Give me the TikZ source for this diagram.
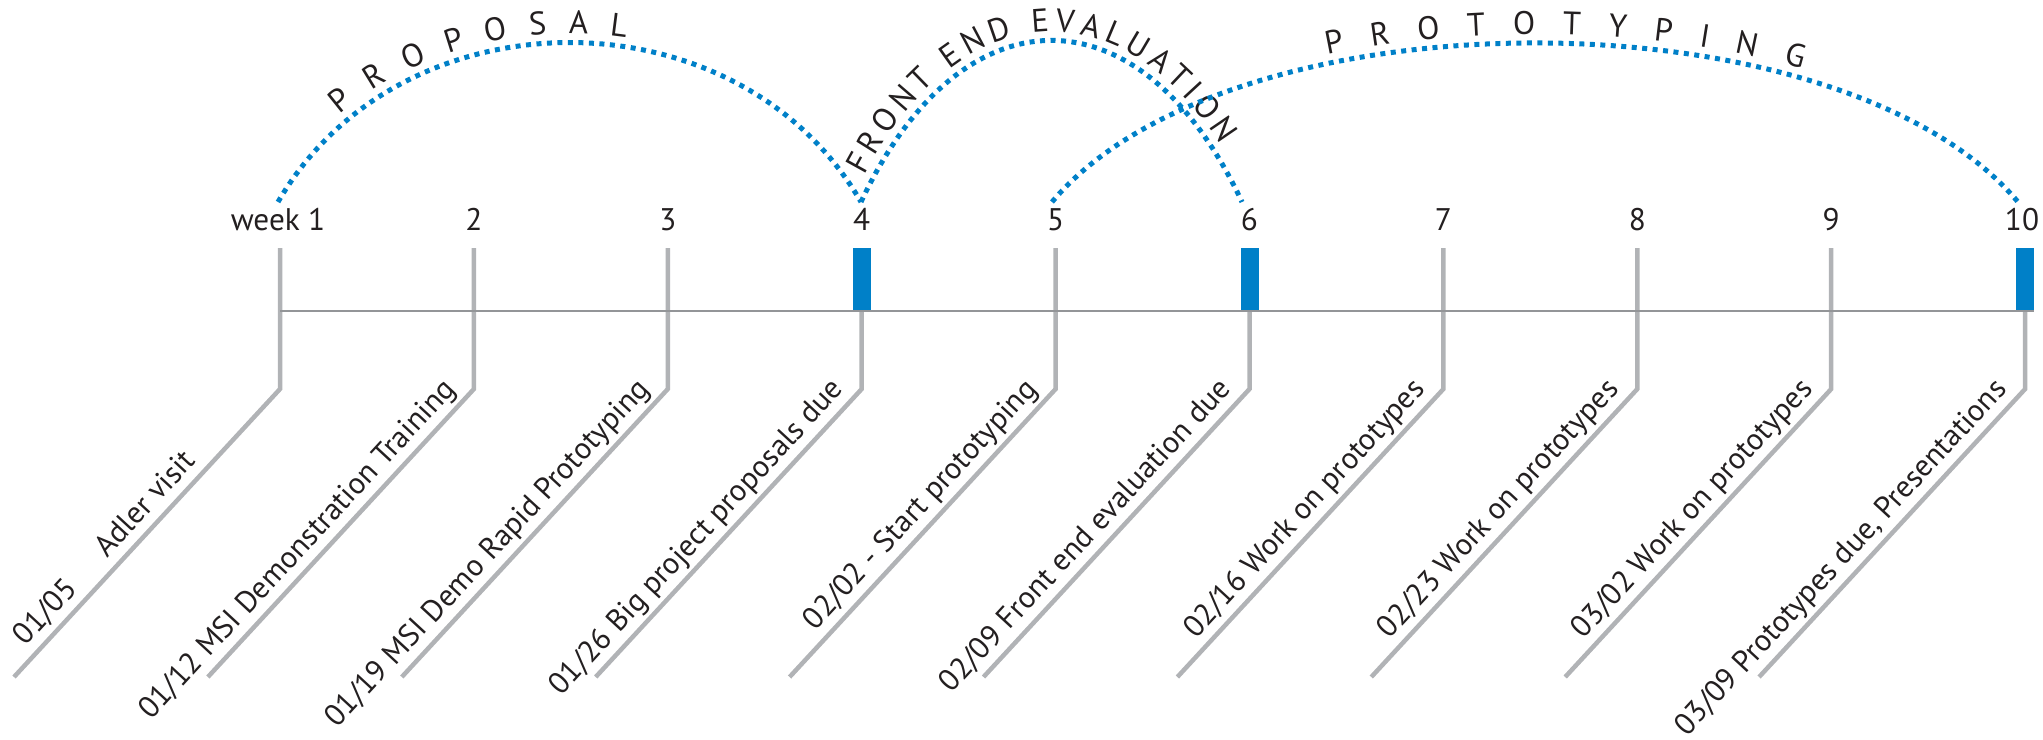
\documentclass[tikz,border=0pt]{standalone}
\usepackage{fontspec}
\setmainfont{PT Sans}
\usetikzlibrary{calc,decorations.text}

\definecolor{tlblue}{RGB}{0,128,200}
\definecolor{tickgray}{RGB}{177,179,182}
\definecolor{axisgray}{RGB}{147,149,152}
\definecolor{ink}{RGB}{35,31,32}

\tikzset{
	weekno/.style={anchor=base, text=ink, inner sep=0pt, font=\fontsize{12.5}{15}\selectfont},
	duelabel/.style={rotate=47.27, anchor=base east, text=ink, inner sep=0pt, font=\fontsize{12.2}{15}\selectfont},
	tickline/.style={draw=tickgray, line width=1.8pt},
	axisline/.style={draw=axisgray, line width=1.1pt},
	duebar/.style={fill=tlblue},
	phase/.style={draw=tlblue, line width=2pt, dash pattern=on 2pt off 2.2pt},
	phasetext/.style n args={3}{postaction={decorate, decoration={text along path, raise=3.5pt, text color=ink,
		text={|\fontsize{13}{14}\selectfont|#1}, text align={left indent=#2, right indent=#3, fit to path}}}}
}

\begin{document}
\begin{tikzpicture}[x=40pt,y=40pt]
	\useasboundingbox (0,0) rectangle (20.43,7.39);
	%
	\node[weekno] (w1)  at (2.78,5.09)   {week 1};
	\node[weekno] (w2)  at (4.739,5.09)  {2};
	\node[weekno] (w3)  at (6.678,5.09)  {3};
	\node[weekno] (w4)  at (8.617,5.09)  {4};
	\node[weekno] (w5)  at (10.556,5.09) {5};
	\node[weekno] (w6)  at (12.495,5.09) {6};
	\node[weekno] (w7)  at (14.434,5.09) {7};
	\node[weekno] (w8)  at (16.373,5.09) {8};
	\node[weekno] (w9)  at (18.312,5.09) {9};
	\node[weekno] (w10) at (20.22,5.09)  {10};
	
	%tick top, bend and foot
	\coordinate (t1)  at (2.800,4.91);  \coordinate (b1)  at (2.800,3.50);  \coordinate (e1)  at (0.140,0.62);
	\coordinate (t2)  at (4.739,4.91);  \coordinate (b2)  at (4.739,3.50);  \coordinate (e2)  at (2.079,0.62);
	\coordinate (t3)  at (6.678,4.91);  \coordinate (b3)  at (6.678,3.50);  \coordinate (e3)  at (4.018,0.62);
	\coordinate (t4)  at (8.617,4.91);  \coordinate (b4)  at (8.617,3.50);  \coordinate (e4)  at (5.957,0.62);
	\coordinate (t5)  at (10.556,4.91); \coordinate (b5)  at (10.556,3.50); \coordinate (e5)  at (7.896,0.62);
	\coordinate (t6)  at (12.495,4.91); \coordinate (b6)  at (12.495,3.50); \coordinate (e6)  at (9.835,0.62);
	\coordinate (t7)  at (14.434,4.91); \coordinate (b7)  at (14.434,3.50); \coordinate (e7)  at (11.774,0.62);
	\coordinate (t8)  at (16.373,4.91); \coordinate (b8)  at (16.373,3.50); \coordinate (e8)  at (13.713,0.62);
	\coordinate (t9)  at (18.312,4.91); \coordinate (b9)  at (18.312,3.50); \coordinate (e9)  at (15.652,0.62);
	\coordinate (t10) at (20.251,4.91); \coordinate (b10) at (20.251,3.50); \coordinate (e10) at (17.591,0.62);
	
	\draw[tickline] (t1)--(b1)--(e1);
	\draw[tickline] (t2)--(b2)--(e2);
	\draw[tickline] (t3)--(b3)--(e3);
	\draw[tickline] (t4)--(b4)--(e4);
	\draw[tickline] (t5)--(b5)--(e5);
	\draw[tickline] (t6)--(b6)--(e6);
	\draw[tickline] (t7)--(b7)--(e7);
	\draw[tickline] (t8)--(b8)--(e8);
	\draw[tickline] (t9)--(b9)--(e9);
	\draw[tickline] (t10)--(b10)--(e10);
	
	%due weeks
	\fill[duebar] ($(t4)+(-0.09,0)$) rectangle ($(t4)+(0.09,-0.63)$);
	\fill[duebar] ($(t6)+(-0.09,0)$) rectangle ($(t6)+(0.09,-0.63)$);
	\fill[duebar] ($(t10)+(-0.09,0)$) rectangle ($(t10)+(0.09,-0.63)$);
	
	%axis
	\coordinate (x0) at (2.80,4.28);
	\coordinate (x1) at (20.34,4.28);
	\draw[axisline] (x0)--(x1);
	
	%dates
	\node[duelabel, anchor=base west] (d1) at ($(e1)+(0.115,0.30)$) {01/05\hspace{1.4em}Adler visit};
	\node[duelabel] (d2)  at ($(b2)+(-0.17,-0.01)$)  {01/12 MSI Demonstration Training};
	\node[duelabel] (d3)  at ($(b3)+(-0.17,-0.01)$)  {01/19 MSI Demo Rapid Prototyping};
	\node[duelabel] (d4)  at ($(b4)+(-0.17,-0.01)$)  {01/26 Big project proposals due};
	\node[duelabel] (d5)  at ($(b5)+(-0.17,-0.01)$)  {02/02 - Start prototyping};
	\node[duelabel] (d6)  at ($(b6)+(-0.17,-0.01)$)  {02/09 Front end evaluation due};
	\node[duelabel] (d7)  at ($(b7)+(-0.17,-0.01)$)  {02/16 Work on prototypes};
	\node[duelabel] (d8)  at ($(b8)+(-0.17,-0.01)$)  {02/23 Work on prototypes};
	\node[duelabel] (d9)  at ($(b9)+(-0.17,-0.01)$)  {03/02 Work on prototypes};
	\node[duelabel] (d10) at ($(b10)+(-0.17,-0.01)$) {03/09 Prototypes due, Presentations};
	
	%phases
	\coordinate (a1)  at (2.78,5.37);
	\coordinate (a4)  at (8.61,5.37);
	\coordinate (a5)  at (10.52,5.37);
	\coordinate (a6)  at (12.42,5.37);
	\coordinate (a10) at (20.18,5.37);
	\draw[phase, phasetext={PROPOSAL}{42pt}{117pt}] (a1) to[out=60,in=120,looseness=1.08] (a4);
	\draw[phase, phasetext={FRONT END EVALUATION}{10pt}{24pt}] (a4) to[out=65,in=115,looseness=1.6] (a6);
	\draw[phase, phasetext={PROTOTYPING}{126pt}{102pt}] (a5) to[out=50,in=130,looseness=0.735] (a10);
\end{tikzpicture}
\end{document}
